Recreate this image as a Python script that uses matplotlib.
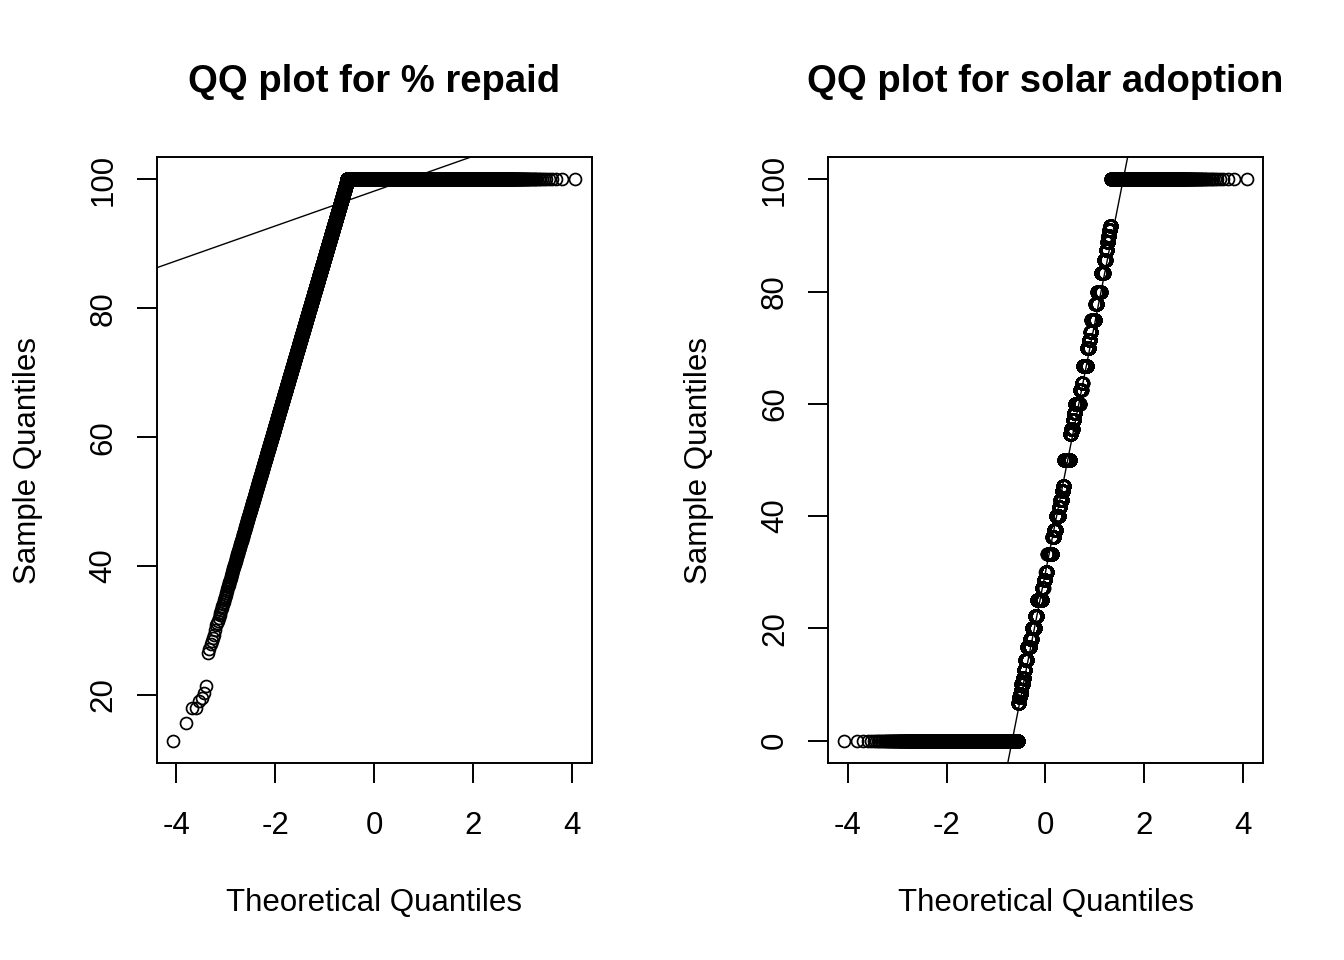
import statistics

import numpy as np
import matplotlib
matplotlib.use("Agg")
import matplotlib.pyplot as plt

plt.rcParams["font.family"] = ["Liberation Sans", "DejaVu Sans"]
plt.rcParams["axes.unicode_minus"] = False

# ---- % repaid ----
# lowest values
repaid_tail = [12.9, 15.6, 17.9, 18.0, 19.0, 19.5, 20.3, 21.4, 26.5]
# dense band: number of loans in each 1 % wide bin, first bin centred on 27.1 %
repaid_band_start = 27.1
repaid_band_counts = [
    1, 2, 2, 1, 3, 2, 3, 3, 4, 3,
    5, 5, 5, 6, 7, 8, 8, 10, 10, 11,
    13, 14, 15, 18, 18, 20, 22, 25, 26, 29,
    31, 34, 37, 41, 42, 47, 50, 55, 58, 62,
    68, 71, 76, 84, 87, 92, 100, 104, 110, 120,
    123, 130, 136, 148, 151, 158, 170, 174, 181, 193,
    197, 204, 212, 225, 227, 235, 248, 250, 257, 270,
    271, 278, 291,
]
repaid_full_count = 15594  # loans at exactly 100 %

# ---- solar adoption ----
solar_levels = [
    0.0, 6.67, 7.69, 8.33, 9.09, 10.0, 11.11, 12.5, 14.29, 16.67, 18.18,
    20.0, 22.22, 25.0, 27.27, 28.57, 30.0, 33.33, 36.36, 37.5, 40.0,
    41.67, 42.86, 44.44, 45.45, 50.0, 54.55, 55.56, 57.14, 58.33, 60.0,
    62.5, 63.64, 66.67, 70.0, 71.43, 72.73, 75.0, 77.78, 80.0, 83.33,
    85.71, 87.5, 88.89, 90.0, 90.91, 91.67, 100.0,
]
solar_counts = [
    6406, 152, 75, 154, 79, 235, 158, 240, 326, 497, 251,
    596, 345, 871, 262, 352, 352, 873, 260, 345, 596,
    167, 251, 249, 163, 957, 154, 227, 224, 147, 642,
    273, 134, 574, 244, 176, 114, 440, 205, 341, 273,
    172, 123, 79, 77, 75, 73, 2021,
]

# values inside a 1 % bin are laid out evenly across that bin
band = []
for k, c in enumerate(repaid_band_counts):
    lo = repaid_band_start + k - 0.5
    band.extend(lo + (np.arange(c) + 0.5) / c)
repaid = np.concatenate([
    repaid_tail,
    band,
    np.full(repaid_full_count, 100.0),
])
solar = np.repeat(solar_levels, solar_counts)

W, H = 1344, 960
fig = plt.figure(figsize=(W / 100, H / 100), dpi=100)
nd = statistics.NormalDist()


def qq_panel(left_px, values, title, yticks):
    ax = fig.add_axes([left_px / W, 1 - 763 / H, 435 / W, 606 / H])
    y = np.sort(np.asarray(values, dtype=float))
    n = len(y)
    x = np.array([nd.inv_cdf((i - 0.5) / n) for i in range(1, n + 1)])
    ax.plot(x, y, "o", mfc="none", mec="black", ms=8.6, mew=1.25)

    # reference line through the quartiles, as qqline does
    q1, q3 = np.quantile(y, [0.25, 0.75])
    z1, z3 = nd.inv_cdf(0.25), nd.inv_cdf(0.75)
    ax.axline((z1, q1), slope=(q3 - q1) / (z3 - z1), color="black", lw=1.0)

    xpad = 0.04 * (x.max() - x.min())
    ypad = 0.04 * (y.max() - y.min())
    ax.set_xlim(x.min() - xpad, x.max() + xpad)
    ax.set_ylim(y.min() - ypad, y.max() + ypad)

    ax.set_xticks([-4, -2, 0, 2, 4])
    ax.set_yticks(yticks)
    for s in ax.spines.values():
        s.set_linewidth(1.4)
    ax.tick_params(axis="both", length=14.4, width=1.4, labelsize=22.5)
    ax.tick_params(axis="x", pad=20.5)
    ax.tick_params(axis="y", pad=13)
    for lab in ax.get_yticklabels():
        lab.set_rotation(90)
        lab.set_va("center")

    ax.set_title(title, fontsize=27.5, fontweight="bold", y=1 + 65 / 606, pad=0)
    ax.set_xlabel("Theoretical Quantiles", fontsize=22.5, va="baseline")
    ax.xaxis.set_label_coords(0.5, -(911 - 763) / 606)
    ax.set_ylabel("Sample Quantiles", fontsize=22.5, va="baseline")
    ax.yaxis.set_label_coords(-(157 - 36) / 435, 0.5)
    return ax


qq_panel(156.5, repaid, "QQ plot for % repaid", [20, 40, 60, 80, 100])
qq_panel(828, solar, "QQ plot for solar adoption", [0, 20, 40, 60, 80, 100])

fig.savefig("out.png", dpi=100, facecolor="white")
